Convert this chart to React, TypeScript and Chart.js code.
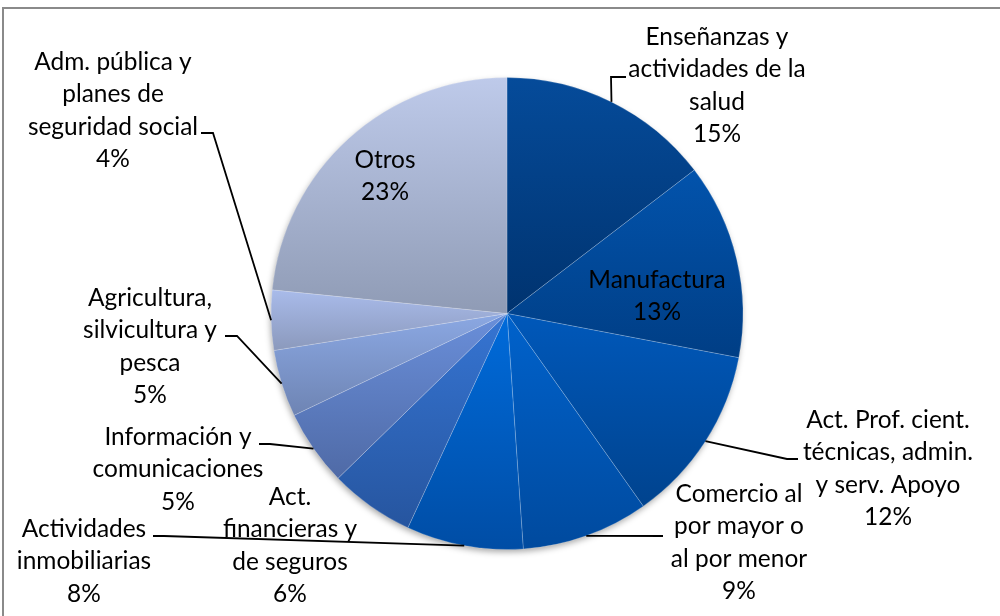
import { useEffect, useRef } from "react";
import { Chart, registerables } from "chart.js";

Chart.register(...registerables);

const categories: string[][] = [
  ["Enseñanzas y", "actividades de la", "salud"],
  ["Manufactura"],
  ["Act. Prof. cient.", "técnicas, admin.", "y serv. Apoyo"],
  ["Comercio al", "por mayor o", "al por menor"],
  ["Actividades", "inmobiliarias"],
  ["Act.", "financieras y", "de seguros"],
  ["Información y", "comunicaciones"],
  ["Agricultura,", "silvicultura y", "pesca"],
  ["Adm. pública y", "planes de", "seguridad social"],
  ["Otros"],
];

const shares = [14.6, 13.4, 12.2, 8.7, 8.0, 5.8, 5.2, 4.6, 4.1, 23.4];

const colorsTop = [
  "#054B9A", "#0253AC", "#0058BA", "#0062CC", "#006BDB",
  "#3675D3", "#6A8FDA", "#8BA8E3", "#A9BBEA", "#BECAEA",
];
const colorsBottom = [
  "#00336F", "#003E85", "#00438E", "#004A9E", "#004DA5",
  "#26559F", "#4F6AA6", "#6E84B3", "#8B99BC", "#8F9BB5",
];

// label block placement: centre x, middle y of first line, leader path (after slice edge point)
const labelLayout: { x: number; y: number; leader: number[][] }[] = [
  { x: 717, y: 37, leader: [[611, 77], [626, 77]] },
  { x: 657, y: 280, leader: [] },
  { x: 888, y: 420, leader: [[787, 459], [798, 459]] },
  { x: 739, y: 494, leader: [[663, 536]] },
  { x: 84, y: 529, leader: [[164, 536], [153, 536]] },
  { x: 290, y: 497, leader: [] },
  { x: 178, y: 437, leader: [[270, 444], [259, 444]] },
  { x: 150, y: 298, leader: [[237, 336], [225, 336]] },
  { x: 113, y: 62, leader: [[213, 133], [201, 133]] },
  { x: 385, y: 160, leader: [] },
];

const LINE_H = 32.5;
const FONT_FAMILY = "Lato, 'Open Sans', sans-serif";

function sliceGradient(context: any) {
  const chart = context.chart;
  const area = chart.chartArea;
  const i = context.dataIndex;
  if (!area || i === undefined) return colorsTop[i ?? 0];
  const cy = (area.top + area.bottom) / 2;
  const r = (Math.min(area.right - area.left, area.bottom - area.top) - 1) / 2;
  const total = shares.reduce((a, b) => a + b, 0);
  let before = 0;
  for (let k = 0; k < i; k++) before += shares[k];
  const a0 = (before / total) * Math.PI * 2;
  const a1 = ((before + shares[i]) / total) * Math.PI * 2;
  const ys = [cy, cy - r * Math.cos(a0), cy - r * Math.cos(a1)];
  if (a0 <= 0.0001 || a1 >= Math.PI * 2 - 0.0001) ys.push(cy - r);
  if (a0 <= Math.PI && a1 >= Math.PI) ys.push(cy + r);
  const ymin = Math.min(...ys);
  const ymax = Math.max(...ys);
  const g = chart.ctx.createLinearGradient(0, ymin, 0, ymax + 0.01);
  g.addColorStop(0, colorsTop[i]);
  g.addColorStop(1, colorsBottom[i]);
  return g;
}

const framePlugin = {
  id: "frame",
  beforeDraw(chart: any) {
    const ctx = chart.ctx;
    ctx.save();
    ctx.fillStyle = "#ffffff";
    ctx.fillRect(0, 0, chart.width, chart.height);
    ctx.strokeStyle = "#8a8a8a";
    ctx.lineWidth = 2;
    ctx.strokeRect(3, 8, chart.width + 50, chart.height + 50);
    ctx.restore();
  },
  beforeDatasetsDraw(chart: any) {
    const arc = chart.getDatasetMeta(0).data[0];
    if (!arc) return;
    const ctx = chart.ctx;
    ctx.save();
    ctx.beginPath();
    ctx.arc(arc.x, arc.y, arc.outerRadius - 0.5, 0, Math.PI * 2);
    ctx.shadowColor = "rgba(0,0,0,0.35)";
    ctx.shadowBlur = 6;
    ctx.shadowOffsetX = -1;
    ctx.shadowOffsetY = 3;
    ctx.fillStyle = "#ffffff";
    ctx.fill();
    ctx.restore();
  },
};

const labelPlugin = {
  id: "sliceLabels",
  afterDatasetsDraw(chart: any) {
    const ctx = chart.ctx;
    const meta = chart.getDatasetMeta(0);
    const total = shares.reduce((a, b) => a + b, 0);
    ctx.save();
    ctx.font = `100px ${FONT_FAMILY}`;
    const ref = ctx.measureText("comunicaciones").width;
    const size = (100 * 171) / ref;
    // leaders
    ctx.strokeStyle = "#000000";
    ctx.lineWidth = 1.8;
    meta.data.forEach((arc: any, i: number) => {
      const lay = labelLayout[i];
      if (!lay.leader.length) return;
      const mid = (arc.startAngle + arc.endAngle) / 2;
      const sx = arc.x + Math.cos(mid) * arc.outerRadius;
      const sy = arc.y + Math.sin(mid) * arc.outerRadius;
      ctx.beginPath();
      ctx.moveTo(sx, sy);
      lay.leader.forEach((p) => ctx.lineTo(p[0], p[1]));
      ctx.stroke();
    });
    // text
    ctx.font = `${size}px ${FONT_FAMILY}`;
    ctx.fillStyle = "#000000";
    ctx.textAlign = "center";
    ctx.textBaseline = "middle";
    categories.forEach((lines, i) => {
      const lay = labelLayout[i];
      const pct = Math.round((shares[i] / total) * 100) + "%";
      [...lines, pct].forEach((t, k) => {
        ctx.fillText(t, lay.x, lay.y + k * LINE_H);
      });
    });
    ctx.restore();
  },
};

export default function App() {
  const ref = useRef<HTMLCanvasElement | null>(null);
  useEffect(() => {
    if (!ref.current) return;
    const chart = new Chart(ref.current, {
      type: "pie",
      data: {
        labels: categories.map((l) => l.join(" ")),
        datasets: [
          {
            data: shares,
            backgroundColor: sliceGradient as any,
            borderColor: "rgba(255,255,255,0.18)",
            borderWidth: 1,
          },
        ],
      },
      options: {
        responsive: false,
        animation: false,
        devicePixelRatio: 1,
        layout: { padding: { left: 270, right: 256, top: 77, bottom: 66 } },
        plugins: {
          legend: { display: false },
          tooltip: { enabled: false },
        },
      } as any,
      plugins: [framePlugin, labelPlugin],
    });
    return () => chart.destroy();
  }, []);
  return (
    <div style={{ position: "fixed", left: 0, top: 0, width: 1000, height: 616, overflow: "hidden", background: "#fff" }}>
      <canvas ref={ref} width={1000} height={616} style={{ display: "block", width: 1000, height: 616 }} />
    </div>
  );
}
